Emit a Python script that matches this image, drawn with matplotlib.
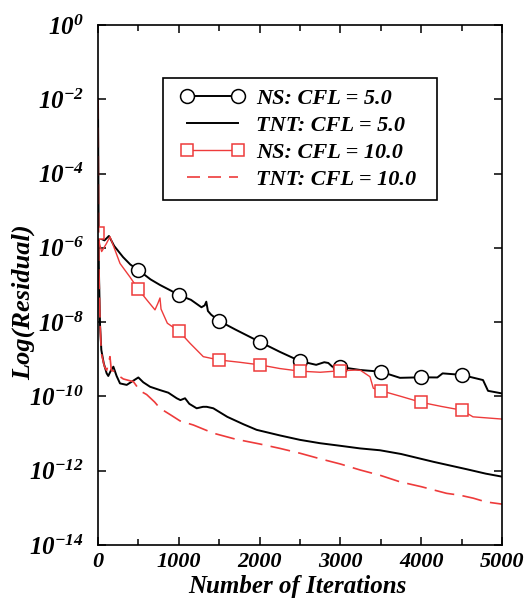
import numpy as np
from matplotlib import pyplot as plt
from matplotlib.legend_handler import HandlerLine2D
from matplotlib.ticker import FixedLocator, FuncFormatter

plt.rcParams['font.family'] = ['Liberation Serif', 'DejaVu Serif']
plt.rcParams['font.weight'] = 'bold'
plt.rcParams['font.style'] = 'italic'
plt.rcParams['mathtext.fontset'] = 'custom'
plt.rcParams['mathtext.rm'] = 'Liberation Serif:bold:italic'
plt.rcParams['mathtext.it'] = 'Liberation Serif:bold:italic'
plt.rcParams['mathtext.bf'] = 'Liberation Serif:bold:italic'

# NS solver, CFL = 5.0 (log10 of residual)
ns5_x = [0, 30, 80, 135, 200, 310, 400, 500, 650, 767, 900, 1000, 1150, 1280, 1320, 1340,
         1360, 1400, 1500, 1700, 2000, 2250, 2500, 2700, 2800, 2850, 2900, 3000, 3250, 3500,
         3737, 4000, 4200, 4265, 4500, 4765, 4827, 5000]
ns5_y = [-5.65, -5.75, -5.8, -5.68, -5.95, -6.25, -6.45, -6.6, -6.85, -7.0, -7.15, -7.27,
         -7.4, -7.6, -7.55, -7.45, -7.7, -7.8, -7.97, -8.2, -8.53, -8.8, -9.05, -9.15, -9.08,
         -9.1, -9.2, -9.21, -9.29, -9.335, -9.5, -9.486, -9.49, -9.38, -9.42, -9.56, -9.85, -9.92]

# NS solver, CFL = 10.0
ns10_x = [0, 20, 45, 100, 148, 200, 272, 400, 500, 603, 705, 740, 767, 780, 858, 1000, 1139,
          1303, 1500, 1750, 2000, 2250, 2500, 2750, 3000, 3100, 3200, 3250, 3366, 3407, 3500,
          3750, 4000, 4250, 4500, 4641, 5000]
ns10_y = [-5.6, -5.9, -6.1, -5.9, -5.7, -6.0, -6.42, -6.8, -7.12, -7.4, -7.67, -7.5, -7.35,
          -7.65, -8.03, -8.24, -8.57, -8.93, -9.02, -9.08, -9.15, -9.25, -9.32, -9.35, -9.31,
          -9.3, -9.29, -9.3, -9.47, -9.78, -9.846, -10.0, -10.16, -10.27, -10.37, -10.55, -10.61]

# TNT solver, CFL = 5.0
tnt5_x = [0, 10, 25, 41, 70, 107, 127, 160, 190, 230, 272, 355, 420, 499, 560, 644, 767, 870,
          974, 1020, 1077, 1130, 1221, 1300, 1345, 1427, 1600, 1800, 1963, 2250, 2500, 2748,
          3000, 3243, 3490, 3750, 4150, 4562, 4800, 5000]
tnt5_y = [-2.0, -6.5, -8.08, -8.75, -9.1, -9.38, -9.45, -9.3, -9.2, -9.45, -9.65, -9.69, -9.6,
          -9.49, -9.62, -9.74, -9.83, -9.9, -10.05, -10.1, -10.05, -10.2, -10.32, -10.28, -10.28,
          -10.32, -10.55, -10.75, -10.9, -11.05, -11.17, -11.26, -11.33, -11.4, -11.45, -11.55,
          -11.76, -11.96, -12.08, -12.16]

# TNT solver, CFL = 10.0
tnt10_x = [0, 10, 25, 41, 80, 107, 130, 148, 165, 210, 260, 313, 380, 437, 520, 602, 700, 767,
           900, 1015, 1180, 1427, 1700, 2000, 2252, 2500, 2750, 3000, 3243, 3500, 3738, 4000,
           4315, 4480, 4645, 4800, 5000]
tnt10_y = [-2.0, -6.5, -8.0, -8.84, -9.2, -9.3, -9.1, -8.93, -9.3, -9.33, -9.45, -9.53, -9.57,
           -9.6, -9.85, -9.95, -10.15, -10.32, -10.5, -10.66, -10.77, -10.99, -11.15, -11.28,
           -11.4, -11.53, -11.68, -11.82, -11.98, -12.13, -12.3, -12.43, -12.61, -12.66, -12.74,
           -12.84, -12.9]

marker_iters = [0, 500, 1000, 1500, 2000, 2500, 3000, 3500, 4000, 4500]

red = '#ee3b3b'

fig = plt.figure(figsize=(5.25, 6.04), dpi=100)
ax = fig.add_axes([0.1867, 0.0977, 0.7695, 0.861])

ns5_marks = [i for i, v in enumerate(ns5_x) if v in marker_iters[1:]]
ns10_marks = [i for i, v in enumerate(ns10_x) if v in marker_iters]

ax.plot(ns5_x, 10.0 ** np.array(ns5_y), color='black', lw=1.4, marker='o', ms=10,
        mfc='white', mec='black', mew=1.1, markevery=ns5_marks, label='NS: CFL = 5.0')
ax.plot(tnt5_x, 10.0 ** np.array(tnt5_y), color='black', lw=1.4, label='TNT: CFL = 5.0')
ax.plot(ns10_x, 10.0 ** np.array(ns10_y), color=red, lw=1.0, marker='s', ms=9,
        mfc='white', mec=red, mew=1.1, markevery=ns10_marks, label='NS: CFL = 10.0')
ax.plot(tnt10_x, 10.0 ** np.array(tnt10_y), color=red, lw=1.2, dashes=(12, 5),
        label='TNT: CFL = 10.0')

ax.set_yscale('log')
ax.set_xlim(0, 5000)
ax.set_ylim(1e-14, 1e0)
ax.yaxis.set_major_locator(FixedLocator([10.0 ** e for e in range(-14, 1, 2)]))
ax.yaxis.set_minor_locator(FixedLocator([]))
ax.yaxis.set_major_formatter(FuncFormatter(lambda v, p: r'$10^{%d}$' % round(np.log10(v))))
ax.set_xticks([0, 1000, 2000, 3000, 4000, 5000])
ax.set_xticks([500, 1500, 2500, 3500, 4500], minor=True)

ax.tick_params(which='both', direction='in', top=True, right=True, width=1.1)
ax.tick_params(which='major', length=6)
ax.tick_params(which='minor', length=4)
ax.tick_params(axis='y', labelsize=18, pad=10)
ax.tick_params(axis='x', labelsize=16, pad=5)
for s in ax.spines.values():
    s.set_linewidth(1.2)

ax.set_xlabel('Number of Iterations', fontsize=18, fontweight='bold', fontstyle='italic')
ax.set_ylabel('Log(Residual)', fontsize=19, fontweight='bold', fontstyle='italic')
ax.xaxis.set_label_coords(0.494, -0.058)
ax.yaxis.set_label_coords(-0.156, 0.467)

leg = ax.legend(loc='upper left', bbox_to_anchor=(0.161, 0.663, 0.678, 0.235), mode='expand',
                fontsize=16, numpoints=2, handlelength=3.55, fancybox=False, framealpha=1,
                edgecolor='black', borderpad=0.45, labelspacing=0.3, handletextpad=0.2,
                borderaxespad=0, handler_map={plt.Line2D: HandlerLine2D(marker_pad=0.63)})
leg.get_frame().set_linewidth(1.2)
# shorter dashes in the legend sample, three dashes like the original key
leg.get_lines()[3].set_dashes((7.8, 4.8))

fig.savefig('out.png', dpi=100)
